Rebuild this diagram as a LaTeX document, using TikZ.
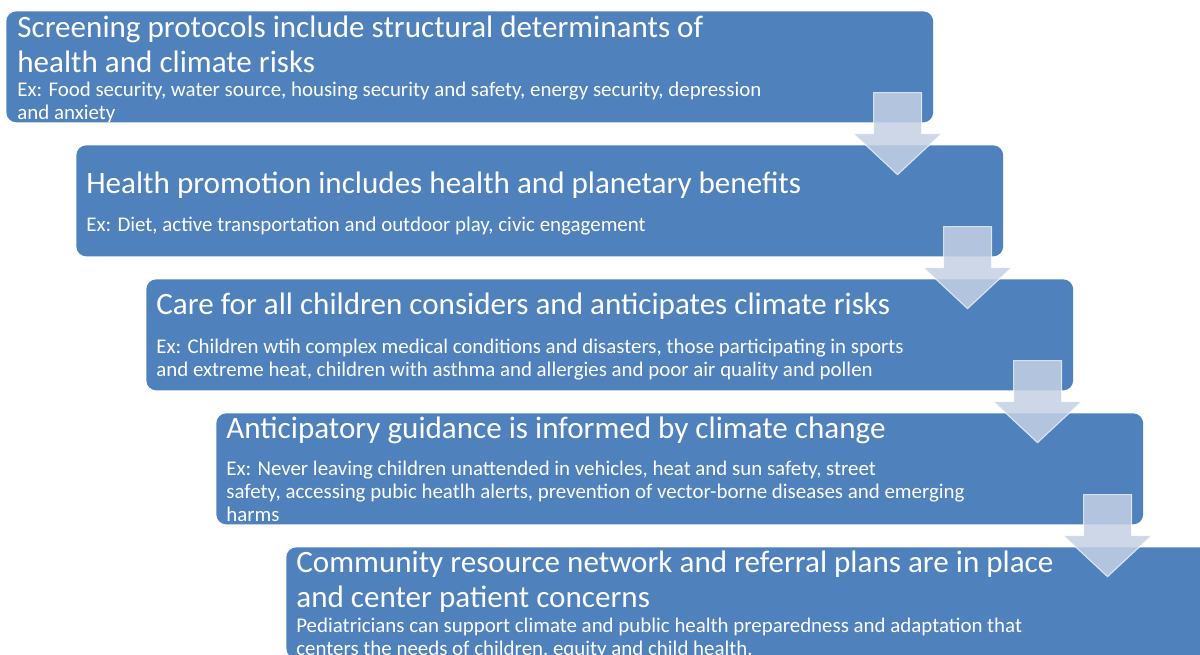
\documentclass[tikz,border=0pt]{standalone}
\usepackage{fontspec}
\setmainfont{Carlito}
\usetikzlibrary{calc}
\definecolor{stepblue}{RGB}{79, 129, 189}
\definecolor{arrowfill}{RGB}{196, 208, 228}

\tikzset{
  stepbox/.style={fill=stepblue, rounded corners=0.2cm, anchor=north west,
    minimum width=18.54cm, minimum height=2.22cm, inner sep=0pt},
  % base anchor sits on the last line of a multi-line node
  steptitle/.style={text=white, anchor=base west, align=left, inner sep=0pt,
    font=\fontsize{17.7}{19.8}\selectfont},
  stepnote/.style={text=white, anchor=base west, align=left, inner sep=0pt,
    font=\fontsize{11.9}{13}\selectfont},
  blockarrow/.style={fill=arrowfill, fill opacity=0.85, draw=white,
    draw opacity=0.7, line width=0.6pt, line join=miter}
}

\begin{document}
\begin{tikzpicture}[x=0.02cm, y=-0.02cm]
  \useasboundingbox (0,0) rectangle (1200,654);
  \clip (0,0) rectangle (1200,654);

  % the five steps, each shifted right and down
  \node[stepbox] (s1) at (6,11) {};
  \node[stepbox] (s2) at (76,145) {};
  \node[stepbox] (s3) at (146,279) {};
  \node[stepbox] (s4) at (216,413) {};
  \node[stepbox] (s5) at (286,547) {};

  % block arrows between the steps
  \foreach \b in {s1,s2,s3,s4}
    \draw[blockarrow, shift={(\b.south east)}]
      (-60,-30) -- (-12,-30) -- (-12,11) -- (8,11) -- (-36,52) -- (-80,11) -- (-60,11) -- cycle;

  % step 1
  \node[steptitle] (t1) at (17,72) {Screening protocols include structural determinants of\\health and climate risks};
  \node[stepnote] (n1) at (17,119) {Ex: Food security, water source, housing security and safety, energy security, depression\\and anxiety};

  % step 2
  \node[steptitle] (t2) at (86,193) {Health promotion includes health and planetary benefits};
  \node[stepnote] (n2) at (86,231) {Ex: Diet, active transportation and outdoor play, civic engagement};

  % step 3
  \node[steptitle] (t3) at (156,314) {Care for all children considers and anticipates climate risks};
  \node[stepnote] (n3) at (156,376) {Ex: Children wtih complex medical conditions and disasters, those participating in sports\\and extreme heat, children with asthma and allergies and poor air quality and pollen};

  % step 4
  \node[steptitle] (t4) at (226,438) {Anticipatory guidance is informed by climate change};
  \node[stepnote] (n4) at (226,521) {Ex: Never leaving children unattended in vehicles, heat and sun safety, street\\safety, accessing pubic heatlh alerts, prevention of vector-borne diseases and emerging\\harms};

  % step 5
  \node[steptitle] (t5) at (296,607) {Community resource network and referral plans are in place\\and center patient concerns};
  \node[stepnote] (n5) at (296,655) {Pediatricians can support climate and public health preparedness and adaptation that\\centers the needs of children, equity and child health.};
\end{tikzpicture}
\end{document}
